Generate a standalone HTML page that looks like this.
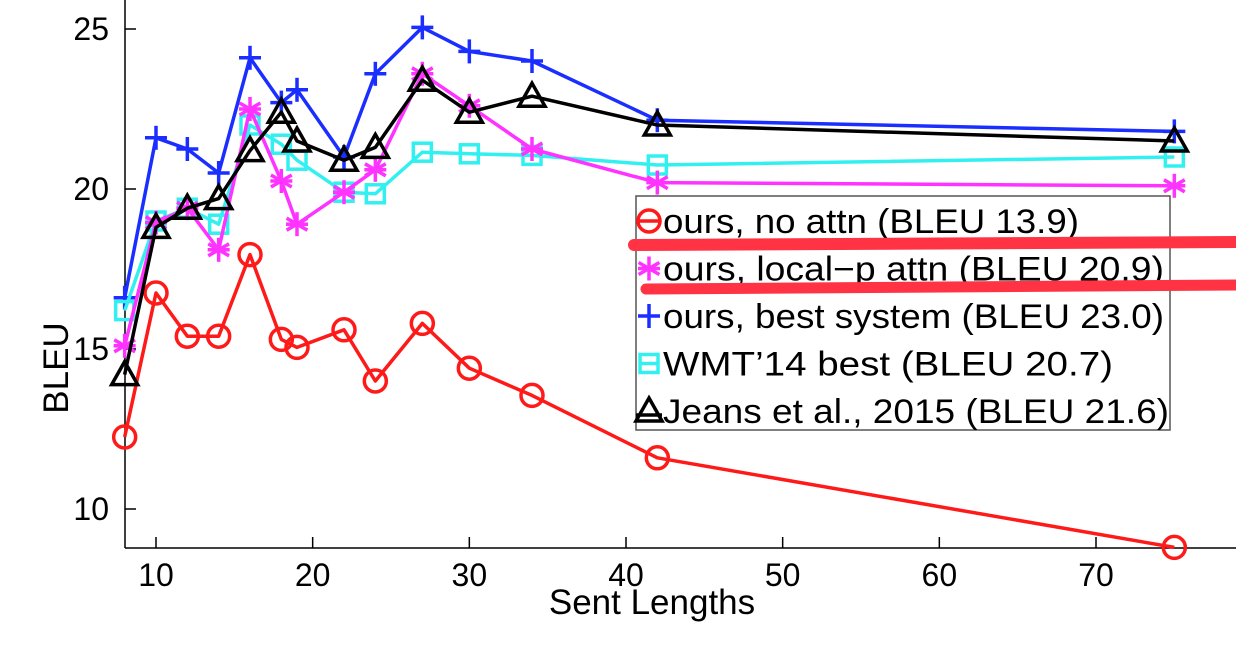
<!DOCTYPE html>
<html><head><meta charset="utf-8"><style>
html,body{margin:0;padding:0;background:#fff;}
svg{display:block;font-family:"Liberation Sans",sans-serif;}
</style></head><body>
<svg id="chart" width="1236" height="656" viewBox="0 0 1236 656" xmlns="http://www.w3.org/2000/svg"></svg>
<script>
const xs = [8,10,12,14,16,18,19,22,24,27,30,34,42,75];
const redVals = [12.25,16.75,15.4,15.4,17.95,15.3,15.05,15.6,14.0,15.8,14.4,13.55,11.6,8.8];
const magentaVals = [15.1,18.95,19.4,18.1,22.5,20.25,18.9,19.9,20.6,23.6,22.6,21.25,20.2,20.1];
const blueVals = [16.6,21.6,21.25,20.5,24.1,22.7,23.1,21.0,23.6,25.05,24.3,24.0,22.15,21.8];
const cyanVals = [16.2,19.0,19.4,18.9,22.0,21.4,20.9,19.9,19.85,21.15,21.1,21.05,20.75,21.0];
const blackVals = [14.2,18.8,19.4,19.7,21.2,22.4,21.5,20.9,21.3,23.4,22.4,22.9,22.0,21.5];
const xTicks = [10,20,30,40,50,60,70];
const yTicks = [10,15,20,25];
const legendLabels = ["ours, no attn (BLEU 13.9)","ours, local\u2212p attn (BLEU 20.9)","ours, best system (BLEU 23.0)","WMT\u201914 best (BLEU 20.7)","Jeans et al., 2015 (BLEU 21.6)"];
const legendWidths = [416,501,501,450,506];

const NS="http://www.w3.org/2000/svg";
const svg=document.getElementById('chart');
const X=v=>156+(v-10)*(940/60);
const Y=v=>509-(v-10)*32;
function mk(tag,attrs,parent){const e=document.createElementNS(NS,tag);for(const k in attrs)e.setAttribute(k,attrs[k]);(parent||svg).appendChild(e);return e;}

let ax=mk('line',{x1:125,y1:0,x2:125,y2:548,stroke:'#000','stroke-width':1.5});


ax=mk('line',{x1:125,y1:548,x2:1236,y2:548,stroke:'#000','stroke-width':1.5});


xTicks.forEach(t=>{
  const l=mk('line',{x1:X(t),y1:548,x2:X(t),y2:537,stroke:'#000','stroke-width':1.5});
  
  
  const tx=mk('text',{x:X(t),y:586,'font-size':32,'text-anchor':'middle'});tx.textContent=t;
  
  
});
yTicks.forEach(t=>{
  const l=mk('line',{x1:125,y1:Y(t),x2:136,y2:Y(t),stroke:'#000','stroke-width':1.5});
  
  
  const tx=mk('text',{x:109,y:Y(t)+11,'font-size':32,'text-anchor':'end'});tx.textContent=t;
  
  
});
let t=mk('text',{x:652,y:614,'font-size':35,'text-anchor':'middle'});t.textContent='Sent Lengths';


t=mk('text',{x:0,y:0,'font-size':35,'text-anchor':'middle',transform:'translate(68,368) rotate(-90)'});t.textContent='BLEU';



function marker(type,cx,cy,color,g){
  const sw=3.5;
  if(type==='circle'){mk('circle',{cx,cy,r:11,fill:'none',stroke:color,'stroke-width':sw},g);}
  else if(type==='star'){
    for(const a of [0,60,120]){const r=a*Math.PI/180;mk('line',{x1:cx+12*Math.sin(r),y1:cy-12*Math.cos(r),x2:cx-12*Math.sin(r),y2:cy+12*Math.cos(r),stroke:color,'stroke-width':sw},g);}
    mk('line',{x1:cx-11,y1:cy,x2:cx+11,y2:cy,stroke:color,'stroke-width':sw},g);
  }
  else if(type==='plus'){mk('line',{x1:cx-11,y1:cy,x2:cx+11,y2:cy,stroke:color,'stroke-width':sw},g);mk('line',{x1:cx,y1:cy-12,x2:cx,y2:cy+12,stroke:color,'stroke-width':sw},g);}
  else if(type==='square'){mk('rect',{x:cx-9,y:cy-9,width:18,height:18,fill:'none',stroke:color,'stroke-width':sw},g);}
  else if(type==='tri'){mk('path',{d:`M${cx} ${cy-13}L${cx+13} ${cy+10}L${cx-13} ${cy+10}Z`,fill:'none',stroke:color,'stroke-width':sw},g);}
}
const series=[
  {name:'series-no-attn',vals:redVals,color:'#ff1a1a',m:'circle'},
  {name:'series-local-p-attn',vals:magentaVals,color:'#ff33ff',m:'star'},
  {name:'series-best-system',vals:blueVals,color:'#1a2eff',m:'plus'},
  {name:'series-wmt14-best',vals:cyanVals,color:'#33f0f0',m:'square'},
  {name:'series-jeans-2015',vals:blackVals,color:'#000',m:'tri'}
];
[0,2,3,1,4].forEach(i=>{
  const s=series[i];
  const g=mk('g',{});
  
  
  mk('polyline',{points:xs.map((x,j)=>X(x)+','+Y(s.vals[j])).join(' '),fill:'none',stroke:s.color,'stroke-width':3.5,'stroke-linejoin':'round'},g);
  xs.forEach((x,j)=>marker(s.m,X(x),Y(s.vals[j]),s.color,g));
});

const lg=mk('g',{});


mk('rect',{x:636,y:196,width:534,height:234,fill:'#fff',stroke:'#555','stroke-width':1.5},lg);
legendLabels.forEach((lab,i)=>{
  const cy=221+i*47.5;
  const e=mk('g',{},lg);
  
  
  marker(series[i].m,649,cy,series[i].color,e);
  if(i===0)mk('line',{x1:638,y1:cy,x2:660,y2:cy,stroke:series[i].color,'stroke-width':3.5},e);
  if(i===3)mk('line',{x1:640,y1:cy,x2:658,y2:cy,stroke:series[i].color,'stroke-width':3.5},e);
  if(i===4)mk('line',{x1:636,y1:cy+4,x2:662,y2:cy+4,stroke:series[i].color,'stroke-width':3.5},e);
  const tx=mk('text',{x:663,y:cy+12,'font-size':34,textLength:legendWidths[i],lengthAdjust:'spacingAndGlyphs'},e);tx.textContent=lab;
});
let hs=mk('path',{d:'M634 245 L1236 242',stroke:'#ff3344','stroke-width':12,'stroke-linecap':'round',fill:'none'});


hs=mk('path',{d:'M646 289 L1236 285',stroke:'#ff3344','stroke-width':11,'stroke-linecap':'round',fill:'none'});


</script>
</body></html>
